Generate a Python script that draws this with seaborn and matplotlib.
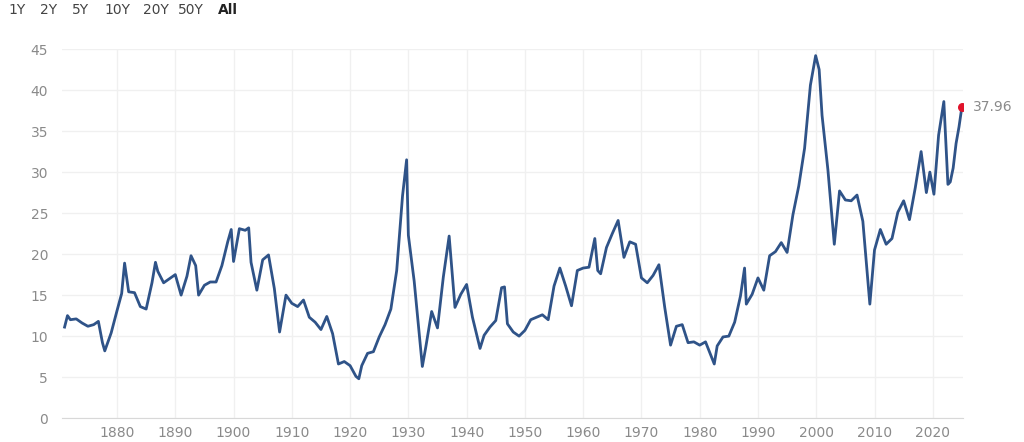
import matplotlib
matplotlib.use('Agg')
import matplotlib.pyplot as plt
import pandas as pd
import seaborn as sns

# CAPE ratio
years = [1871, 1871.5, 1872, 1873, 1874, 1875, 1876, 1876.8, 1877.5, 1877.9, 1879, 1880, 1880.8, 1881.3,
         1882, 1883, 1884, 1885, 1886, 1886.6, 1887, 1888, 1889, 1890, 1891, 1892, 1892.7, 1893.5,
         1894, 1895, 1896, 1897, 1898, 1899, 1899.6, 1900, 1901, 1902, 1902.6, 1903, 1904, 1905,
         1906, 1907, 1907.9, 1909, 1910, 1911, 1912, 1913, 1914, 1915, 1916, 1917, 1918, 1919,
         1920, 1921, 1921.5, 1922, 1923, 1924, 1925, 1926, 1927, 1928, 1929, 1929.7, 1930,
         1931, 1932.4, 1933, 1934, 1935, 1936, 1937, 1938, 1939, 1940, 1941, 1942.3, 1943,
         1944, 1945, 1946, 1946.5, 1947, 1948, 1949, 1950, 1951, 1952, 1953, 1954, 1955, 1956,
         1957, 1958, 1959, 1960, 1961, 1962, 1962.5, 1963, 1964, 1965, 1966, 1967, 1968, 1969,
         1970, 1971, 1972, 1973, 1974, 1975, 1976, 1977, 1978, 1979, 1980, 1981, 1982.5, 1983,
         1984, 1985, 1986, 1987, 1987.7, 1988, 1989, 1990, 1991, 1992, 1993, 1994, 1995, 1996,
         1997, 1998, 1999, 1999.9, 2000.5, 2001, 2002, 2003.1, 2004, 2005, 2006, 2007, 2008,
         2009.2, 2010, 2011, 2012, 2013, 2014, 2015, 2016, 2017, 2018, 2018.9, 2019.5, 2020.2,
         2021, 2021.9, 2022.6, 2023, 2023.5, 2024, 2024.5, 2025.0]
cape = [11.1, 12.5, 12.0, 12.1, 11.6, 11.2, 11.4, 11.8, 9.2, 8.2, 10.4, 13.1, 15.2, 18.9,
        15.4, 15.3, 13.6, 13.3, 16.5, 19.0, 17.9, 16.5, 17.0, 17.5, 15.0, 17.3, 19.8, 18.6,
        15.0, 16.2, 16.6, 16.6, 18.6, 21.5, 23.0, 19.1, 23.1, 22.9, 23.2, 19.0, 15.6, 19.3,
        19.9, 15.8, 10.5, 15.0, 14.0, 13.6, 14.4, 12.3, 11.7, 10.8, 12.4, 10.3, 6.6, 6.9,
        6.4, 5.1, 4.8, 6.4, 7.9, 8.1, 9.9, 11.4, 13.3, 18.0, 27.1, 31.5, 22.3,
        16.7, 6.3, 8.7, 13.0, 11.0, 17.2, 22.2, 13.5, 15.1, 16.3, 12.3, 8.5, 10.1,
        11.1, 11.9, 15.9, 16.0, 11.5, 10.5, 10.0, 10.7, 12.0, 12.3, 12.6, 12.0, 16.1, 18.3,
        16.1, 13.7, 18.0, 18.3, 18.4, 21.9, 18.0, 17.6, 20.8, 22.5, 24.1, 19.6, 21.5, 21.2,
        17.1, 16.5, 17.4, 18.7, 13.5, 8.9, 11.2, 11.4, 9.2, 9.3, 8.9, 9.3, 6.6, 8.8,
        9.9, 10.0, 11.7, 14.9, 18.3, 13.9, 15.1, 17.1, 15.6, 19.8, 20.3, 21.4, 20.2, 24.8,
        28.3, 32.9, 40.6, 44.2, 42.5, 36.9, 30.3, 21.2, 27.7, 26.6, 26.5, 27.2, 24.0,
        13.9, 20.5, 23.0, 21.2, 21.9, 25.1, 26.5, 24.2, 28.1, 32.5, 27.5, 30.0, 27.3,
        34.5, 38.6, 28.5, 28.8, 30.5, 33.5, 35.5, 37.96]
x_ticks = list(range(1880, 2021, 10))
y_ticks = list(range(0, 46, 5))
buttons = ['1Y', '2Y', '5Y', '10Y', '20Y', '50Y', 'All']

LINE = '#2f5388'
GRID = '#f0f0f0'
TXT = '#8a8a8a'

df = pd.DataFrame({'year': years, 'cape': cape})

fig = plt.figure(figsize=(10.24, 4.42), dpi=100)
ax = fig.add_axes([0.0605, 0.054, 0.880, 0.835])
sns.lineplot(data=df, x='year', y='cape', color=LINE, linewidth=2, ax=ax)
ax.scatter([years[-1]], [cape[-1]], color='#e0132b', s=30, zorder=5)
ax.annotate(f'{cape[-1]:.2f}', (years[-1], cape[-1]), xytext=(8, 0),
            textcoords='offset points', va='center', fontsize=10, color=TXT)

ax.set_xlim(1870.55, 2025.2)
ax.set_ylim(0, 45)
ax.set_xticks(x_ticks)
ax.set_yticks(y_ticks)
ax.grid(True, color=GRID, linewidth=1)
ax.set_axisbelow(True)
for s in ['top', 'right', 'left']:
    ax.spines[s].set_visible(False)
ax.spines['bottom'].set_color('#d8d8d8')
ax.tick_params(colors=TXT, labelsize=10, length=0, pad=6)
ax.tick_params(axis='y', pad=10)
ax.set_xlabel('')
ax.set_ylabel('')

xpos = [8, 40, 72, 104, 143, 178, 218]
for b, px in zip(buttons, xpos):
    fig.text(px / 1024, 1 - 10 / 442, b, fontsize=10, va='center', ha='left',
             color='#222222' if b == 'All' else '#444444',
             fontweight='bold' if b == 'All' else 'normal')

fig.savefig('out.png', dpi=100, facecolor='white')
